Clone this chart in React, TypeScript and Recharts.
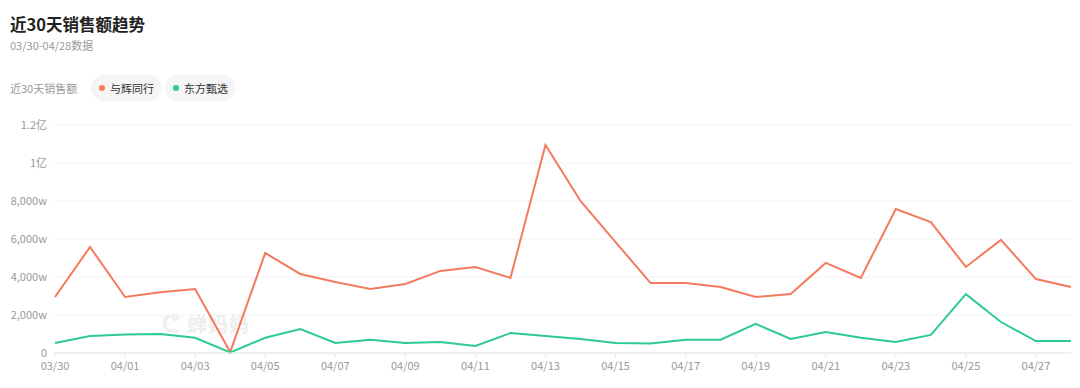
import { LineChart, Line, XAxis, YAxis, CartesianGrid } from "recharts";

const DATES = [
  "03/30", "03/31", "04/01", "04/02", "04/03", "04/04", "04/05", "04/06", "04/07", "04/08",
  "04/09", "04/10", "04/11", "04/12", "04/13", "04/14", "04/15", "04/16", "04/17", "04/18",
  "04/19", "04/20", "04/21", "04/22", "04/23", "04/24", "04/25", "04/26", "04/27", "04/28",
];

// 单位: 万
const YUHUI = [
  2950, 5580, 2950, 3200, 3370, 50, 5260, 4160, 3740, 3370,
  3630, 4320, 4530, 3950, 10950, 8000, 5840, 3680, 3680, 3470,
  2950, 3100, 4740, 3950, 7580, 6890, 4530, 5950, 3890, 3470,
];

const DONGFANG = [
  530, 900, 980, 1000, 800, 30, 800, 1260, 530, 700,
  530, 580, 370, 1050, 900, 740, 530, 500, 700, 700,
  1530, 740, 1100, 800, 580, 950, 3100, 1630, 630, 630,
];

const Y_TICKS = [0, 2000, 4000, 6000, 8000, 10000, 12000];

const RED = "#f47a5e";
const GREEN = "#2dcb8f";
const FONT = "'Noto Sans CJK SC', 'Noto Sans', sans-serif";

function formatY(v: number) {
  if (v === 0) return "0";
  if (v >= 10000) return `${v / 10000}亿`;
  return `${v.toLocaleString("en-US")}w`;
}

const data = DATES.map((d, i) => ({ date: d, yuhui: YUHUI[i], dongfang: DONGFANG[i] }));

function Pill({ color, label, left }: { color: string; label: string; left: number }) {
  return (
    <div
      style={{
        position: "absolute",
        left,
        top: 75,
        height: 26,
        padding: "0 8px",
        borderRadius: 13,
        background: "#f5f5f5",
        display: "flex",
        alignItems: "center",
        fontSize: 11,
        color: "#333",
      }}
    >
      <span
        style={{
          width: 6,
          height: 6,
          borderRadius: 3,
          background: color,
          marginRight: 5,
          display: "inline-block",
        }}
      />
      {label}
    </div>
  );
}

export default function App() {
  return (
    <div
      style={{
        position: "absolute",
        left: 0,
        top: 0,
        width: 1080,
        height: 388,
        background: "#fff",
        fontFamily: FONT,
        overflow: "hidden",
      }}
    >
      <div style={{ position: "absolute", left: 10, top: 12, fontSize: 16.5, fontWeight: 700, color: "#222" }}>
        近30天销售额趋势
      </div>
      <div style={{ position: "absolute", left: 10, top: 37, fontSize: 11, color: "#999" }}>
        03/30-04/28数据
      </div>
      <div style={{ position: "absolute", left: 10, top: 80, fontSize: 11, color: "#999" }}>
        近30天销售额
      </div>
      <Pill color={RED} label="与辉同行" left={91} />
      <Pill color={GREEN} label="东方甄选" left={165} />

      <div
        style={{
          position: "absolute",
          left: 162,
          top: 304,
          fontSize: 20,
          fontWeight: 700,
          color: "#eeeeee",
          letterSpacing: 1,
        }}
      >
        <span style={{ fontSize: 24, marginRight: 6 }}>ᕦ</span>蝉妈妈
      </div>

      <div style={{ position: "absolute", left: 0, top: 110 }}>
        <LineChart width={1080} height={278} data={data} margin={{ top: 15, right: 9, bottom: 5, left: 0 }}>
          <CartesianGrid vertical={false} stroke="#f2f2f2" />
          <XAxis
            dataKey="date"
            interval={1}
            tick={{ fill: "#999", fontSize: 11, fontFamily: FONT }}
            axisLine={{ stroke: "#e6e6e6" }}
            tickLine={{ stroke: "#e6e6e6" }}
            tickSize={4}
            tickMargin={5}
            height={30}
          />
          <YAxis
            domain={[0, 12000]}
            ticks={Y_TICKS}
            tickFormatter={formatY}
            tick={{ fill: "#999", fontSize: 11, fontFamily: FONT }}
            axisLine={false}
            tickLine={false}
            width={55}
          />
          <Line
            type="linear"
            dataKey="yuhui"
            stroke={RED}
            strokeWidth={2}
            dot={false}
            isAnimationActive={false}
          />
          <Line
            type="linear"
            dataKey="dongfang"
            stroke={GREEN}
            strokeWidth={2}
            dot={false}
            isAnimationActive={false}
          />
        </LineChart>
      </div>
    </div>
  );
}
